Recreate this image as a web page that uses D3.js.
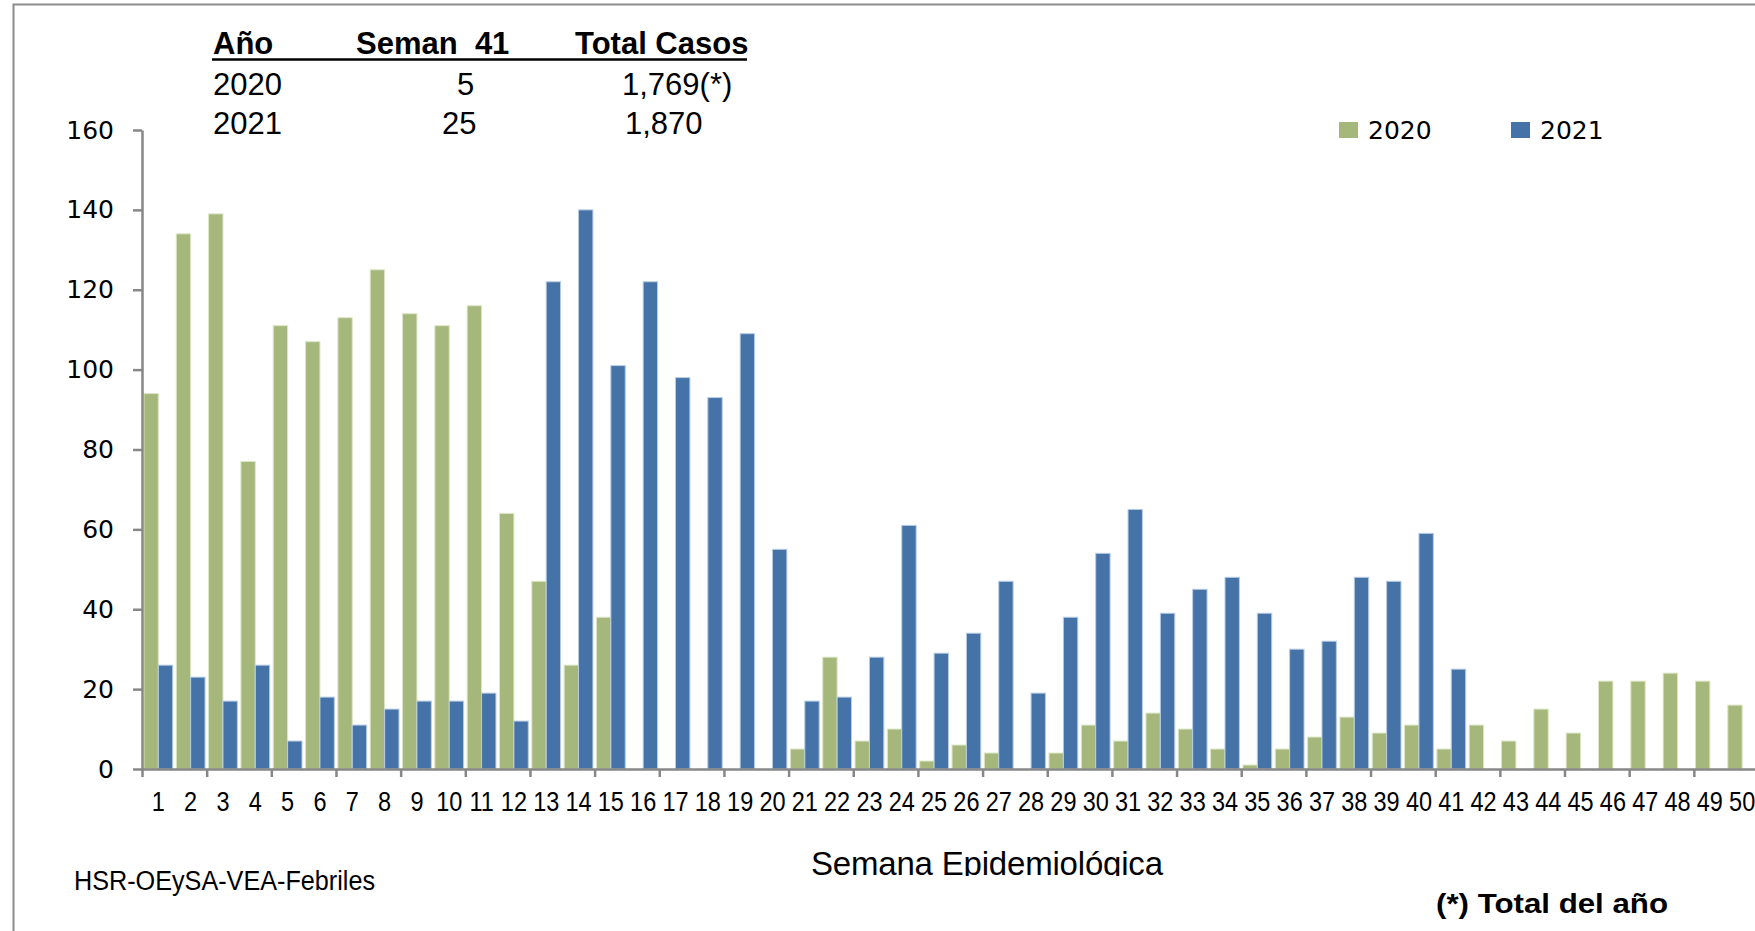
<!DOCTYPE html>
<html>
<head>
<meta charset="utf-8">
<script src="https://cdn.jsdelivr.net/npm/d3@7"></script>
<style>
  body { margin: 0; background: #fff; }
  svg { display: block; }
</style>
</head>
<body>
<div id="chart"></div>
<script>
// data
var weeks = d3.range(1, 51);
var casos2020 = [94, 134, 139, 77, 111, 107, 113, 125, 114, 111,
                 116, 64, 47, 26, 38, 0, 0, 0, 0, 0,
                 5, 28, 7, 10, 2, 6, 4, 0, 4, 11,
                 7, 14, 10, 5, 1, 5, 8, 13, 9, 11,
                 5, 11, 7, 15, 9, 22, 22, 24, 22, 16];
var casos2021 = [26, 23, 17, 26, 7, 18, 11, 15, 17, 17,
                 19, 12, 122, 140, 101, 122, 98, 93, 109, 55,
                 17, 18, 28, 61, 29, 34, 47, 19, 38, 54,
                 65, 39, 45, 48, 39, 30, 32, 48, 47, 59,
                 25];
var seriesNames = ["2020", "2021"];
var yTicks = [0, 20, 40, 60, 80, 100, 120, 140, 160];

var tablaHeader = ["Año", "Seman  41", "Total Casos"];
var tablaRows = [["2020", "5", "1,769(*)"], ["2021", "25", "1,870"]];

var svgWidth = 1755;
var svgHeight = 931;

var colors = { "2020": "#A5B77A", "2021": "#4572A7" };
var strokes = { "2020": "#DCE6C6", "2021": "#B8CCE4" };

var svg = d3.select("#chart")
  .append("svg")
  .attr("width", svgWidth)
  .attr("height", svgHeight);

// outer frame (top and left edges visible)
svg.append("path")
  .attr("d", "M13.5,931 L13.5,4.5 L1755,4.5")
  .attr("fill", "none")
  .attr("stroke", "#8c8c8c")
  .attr("stroke-width", 2);

// scales
var x0 = 142, catW = 32.33;
var x1 = x0 + catW * weeks.length;

var xScale = d3.scaleBand()
  .domain(weeks)
  .range([x0, x1])
  .paddingInner(0.11)
  .paddingOuter(0.06);

var xSub = d3.scaleBand()
  .domain(seriesNames)
  .range([0, xScale.bandwidth()]);

var xBound = d3.scaleLinear()
  .domain([0, weeks.length])
  .range([x0, x1]);

var yScale = d3.scaleLinear()
  .domain([0, 160])
  .range([769, 130]);

// bars
var rows = [];
weeks.forEach(function(w, i) {
  rows.push({ week: w, serie: "2020", value: casos2020[i] });
  if (casos2021[i] != null) rows.push({ week: w, serie: "2021", value: casos2021[i] });
});

svg.append("g")
  .selectAll("rect")
  .data(rows.filter(d => d.value > 0))
  .enter()
  .append("rect")
  .attr("x", d => xScale(d.week) + xSub(d.serie))
  .attr("y", d => yScale(d.value))
  .attr("width", xSub.bandwidth())
  .attr("height", d => yScale(0) - yScale(d.value))
  .attr("fill", d => colors[d.serie])
  .attr("stroke", d => strokes[d.serie])
  .attr("stroke-width", 1);

// y axis
var yAxis = svg.append("g")
  .attr("transform", `translate(${x0}, 0)`)
  .call(d3.axisLeft(yScale).tickValues(yTicks).tickSize(9).tickSizeOuter(0).tickPadding(19));
yAxis.select(".domain").attr("stroke", "#878787").attr("stroke-width", 2.5);
yAxis.selectAll(".tick line").attr("stroke", "#878787").attr("stroke-width", 2.5);
yAxis.selectAll("text")
  .attr("font-family", "DejaVu Sans")
  .attr("font-size", 25)
  .attr("fill", "#000");

// x axis: tick marks every two weeks on the boundaries
var xTickAxis = svg.append("g")
  .attr("transform", `translate(0, ${yScale(0)})`)
  .call(d3.axisBottom(xBound).tickValues(d3.range(0, weeks.length + 1, 2)).tickSize(8).tickSizeOuter(0).tickFormat(""));
xTickAxis.select(".domain").attr("stroke", "#878787").attr("stroke-width", 2.5);
xTickAxis.selectAll(".tick line").attr("stroke", "#878787").attr("stroke-width", 2.5);

// x axis labels
var xAxis = svg.append("g")
  .attr("transform", `translate(0, ${yScale(0)})`)
  .call(d3.axisBottom(xScale).tickSize(0).tickPadding(23));
xAxis.select(".domain").remove();
xAxis.selectAll("text")
  .attr("font-family", "Liberation Sans")
  .attr("font-size", 27)
  .attr("fill", "#000")
  .attr("transform", "scale(0.87,1)");

// legend
var legendPos = [{ name: "2020", x: 1339 }, { name: "2021", x: 1511 }];
var legend = svg.append("g");
legend.selectAll("rect")
  .data(legendPos)
  .enter()
  .append("rect")
  .attr("x", d => d.x)
  .attr("y", 122)
  .attr("width", 19)
  .attr("height", 16)
  .attr("fill", d => colors[d.name]);
legend.selectAll("text")
  .data(legendPos)
  .enter()
  .append("text")
  .attr("x", d => d.x + 29)
  .attr("y", 139)
  .attr("font-family", "DejaVu Sans")
  .attr("font-size", 25)
  .text(d => d.name);

// summary table
var colX = [213, 356, 575];
var table = svg.append("g").attr("font-family", "Liberation Sans").attr("font-size", 31);
table.selectAll("text.head")
  .data(tablaHeader)
  .enter()
  .append("text")
  .attr("class", "head")
  .attr("x", (d, i) => colX[i])
  .attr("y", 54)
  .attr("font-weight", "bold")
  .attr("xml:space", "preserve")
  .style("white-space", "pre")
  .text(d => d);
table.append("line")
  .attr("x1", 212).attr("x2", 747)
  .attr("y1", 59.5).attr("y2", 59.5)
  .attr("stroke", "#000")
  .attr("stroke-width", 2.5);

var cellX = [[213, 457, 622], [213, 442, 625]];
var cellY = [95, 134];
tablaRows.forEach(function(r, ri) {
  table.selectAll("text.r" + ri)
    .data(r)
    .enter()
    .append("text")
    .attr("class", "r" + ri)
    .attr("x", (d, i) => cellX[ri][i])
    .attr("y", cellY[ri])
    .text(d => d);
});

// axis title (clipped at the bottom like the original)
svg.append("clipPath").attr("id", "clipTitle")
  .append("rect").attr("x", 780).attr("y", 830).attr("width", 420).attr("height", 46);
svg.append("text")
  .attr("clip-path", "url(#clipTitle)")
  .attr("x", 811)
  .attr("y", 875)
  .attr("font-family", "Liberation Sans")
  .attr("font-size", 33)
  .attr("textLength", 352)
  .attr("lengthAdjust", "spacing")
  .text("Semana Epidemiológica");

// source and note
svg.append("text")
  .attr("x", 74)
  .attr("y", 890)
  .attr("font-family", "Liberation Sans")
  .attr("font-size", 27)
  .attr("textLength", 301)
  .attr("lengthAdjust", "spacingAndGlyphs")
  .text("HSR-OEySA-VEA-Febriles");

svg.append("text")
  .attr("x", 1436)
  .attr("y", 913)
  .attr("font-family", "Liberation Sans")
  .attr("font-size", 28)
  .attr("font-weight", "bold")
  .attr("textLength", 232)
  .attr("lengthAdjust", "spacingAndGlyphs")
  .text("(*) Total del año");
</script>
</body>
</html>
